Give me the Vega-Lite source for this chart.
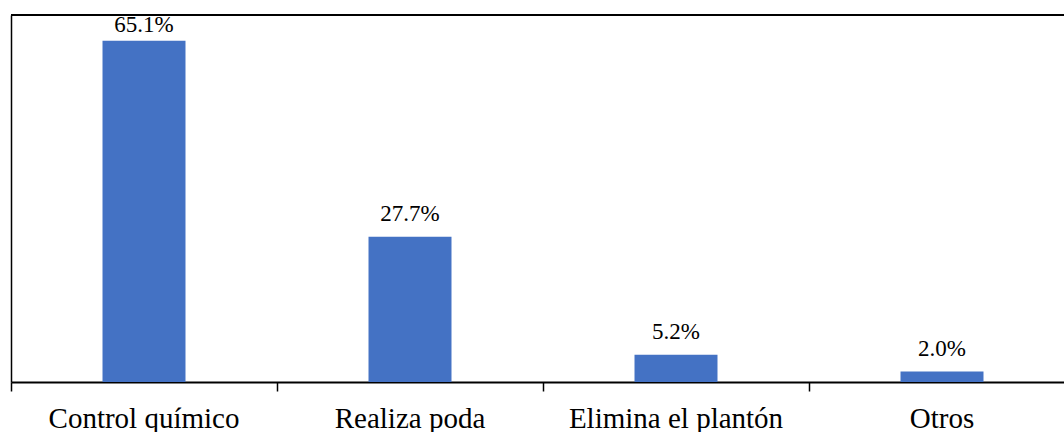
{
  "$schema": "https://vega.github.io/schema/vega-lite/v6.json",
  "width": 1053,
  "height": 367,
  "autosize": {"type": "none"},
  "padding": {"left": 11, "top": 15, "right": 0, "bottom": 50},
  "background": "white",
  "config": {"view": {"stroke": null}, "font": "Liberation Serif", "text": {"font": "Liberation Serif"}},
  "data": {
    "values": [
      {"categoria": "Control químico", "porcentaje": 0.651},
      {"categoria": "Realiza poda", "porcentaje": 0.277},
      {"categoria": "Elimina el plantón", "porcentaje": 0.052},
      {"categoria": "Otros", "porcentaje": 0.02}
    ]
  },
  "layer": [
    {
      "mark": {"type": "bar", "color": "#4472C4", "width": {"band": 0.312}},
      "encoding": {
        "x": {
          "field": "categoria",
          "type": "nominal",
          "sort": null,
          "scale": {"range": [0, 1064], "paddingInner": 0, "paddingOuter": 0},
          "axis": {
            "title": null,
            "orient": "bottom",
            "domainColor": "black",
            "domainWidth": 2,
            "tickColor": "black",
            "tickWidth": 1.5,
            "tickSize": 9,
            "bandPosition": 0,
            "labelOffset": 0,
            "labelLimit": 0,
            "labelOverlap": false,
            "labelAngle": 0,
            "labelAlign": "center",
            "labelFont": "Liberation Serif",
            "labelFontSize": 29,
            "labelColor": "black",
            "labelBaseline": "alphabetic",
            "labelPadding": 36
          }
        },
        "y": {
          "field": "porcentaje",
          "type": "quantitative",
          "scale": {"domain": [0, 0.7], "nice": false},
          "axis": {
            "title": null,
            "labels": false,
            "ticks": false,
            "grid": false,
            "domainColor": "black",
            "domainWidth": 1.5
          }
        }
      }
    },
    {
      "transform": [{"filter": "datum.porcentaje > 0.6"}],
      "mark": {"type": "text", "font": "Liberation Serif", "fontSize": 23, "color": "black", "baseline": "alphabetic", "dy": -9},
      "encoding": {
        "x": {"field": "categoria", "type": "nominal", "sort": null, "bandPosition": 0.5},
        "y": {"field": "porcentaje", "type": "quantitative"},
        "text": {"field": "porcentaje", "type": "quantitative", "format": ".1%"}
      }
    },
    {
      "transform": [{"filter": "datum.porcentaje <= 0.6"}],
      "mark": {"type": "text", "font": "Liberation Serif", "fontSize": 23, "color": "black", "baseline": "alphabetic", "dy": -16},
      "encoding": {
        "x": {"field": "categoria", "type": "nominal", "sort": null, "bandPosition": 0.5},
        "y": {"field": "porcentaje", "type": "quantitative"},
        "text": {"field": "porcentaje", "type": "quantitative", "format": ".1%"}
      }
    },
    {
      "mark": {"type": "rule", "color": "black", "strokeWidth": 2},
      "encoding": {"y": {"datum": 0.7}}
    }
  ]
}
